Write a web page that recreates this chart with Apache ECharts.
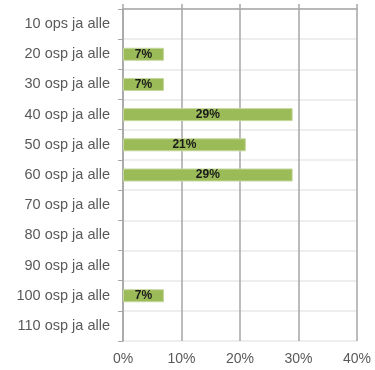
<!DOCTYPE html>
<html>
<head>
<meta charset="utf-8">
<script src="https://cdn.jsdelivr.net/npm/echarts@6/dist/echarts.min.js"></script>
<style>
  html, body { margin: 0; padding: 0; background: #fff; }
  #chart { width: 375px; height: 370px; }
</style>
</head>
<body>
<div id="chart"></div>
<script>
// Share per group size (percent)
const categories = [
  '10 ops ja alle', '20 osp ja alle', '30 osp ja alle', '40 osp ja alle',
  '50 osp ja alle', '60 osp ja alle', '70 osp ja alle', '80 osp ja alle',
  '90 osp ja alle', '100 osp ja alle', '110 osp ja alle'
];
const shares = [null, 7, 7, 29, 21, 29, null, null, null, 7, null];
const xTicks = { min: 0, max: 40, interval: 10 };

const chart = echarts.init(document.getElementById('chart'));
const font = 'Liberation Sans, Arial, sans-serif';
const gridGray = '#a6a6a6';

chart.setOption({
  animation: false,
  grid: { left: 123, right: 18, top: 9, bottom: 29 },
  xAxis: [
    {
      type: 'value',
      min: xTicks.min, max: xTicks.max, interval: xTicks.interval,
      axisLine: { show: false },
      axisTick: { show: false },
      splitLine: { show: true, lineStyle: { color: gridGray, width: 1.5 } },
      axisLabel: {
        formatter: '{value}%', color: '#595959', fontSize: 14,
        fontFamily: font, margin: 11
      }
    },
    {
      type: 'value', position: 'top',
      min: xTicks.min, max: xTicks.max, interval: xTicks.interval,
      axisLine: { show: true, lineStyle: { color: gridGray, width: 1.5 } },
      axisTick: { show: true, inside: false, length: 5, lineStyle: { color: gridGray, width: 1.5 } },
      axisLabel: { show: false },
      splitLine: { show: false }
    }
  ],
  yAxis: {
    type: 'category',
    data: categories,
    inverse: true,
    axisLine: { show: true, lineStyle: { color: gridGray, width: 1.5 } },
    axisTick: { show: true, length: 5, lineStyle: { color: gridGray } },
    splitLine: { show: true, lineStyle: { color: '#e8e8e8', width: 1.5 } },
    axisLabel: { color: '#595959', fontSize: 14.5, fontFamily: font, margin: 13 }
  },
  series: [{
    type: 'bar',
    data: shares,
    barWidth: 13,
    itemStyle: { color: '#9bbb59', borderColor: '#c4d79b', borderWidth: 1 },
    label: {
      show: true, position: 'inside', formatter: '{c}%',
      color: '#1a1a1a', fontWeight: 'bold', fontSize: 12, fontFamily: font
    }
  }]
});
</script>
</body>
</html>
